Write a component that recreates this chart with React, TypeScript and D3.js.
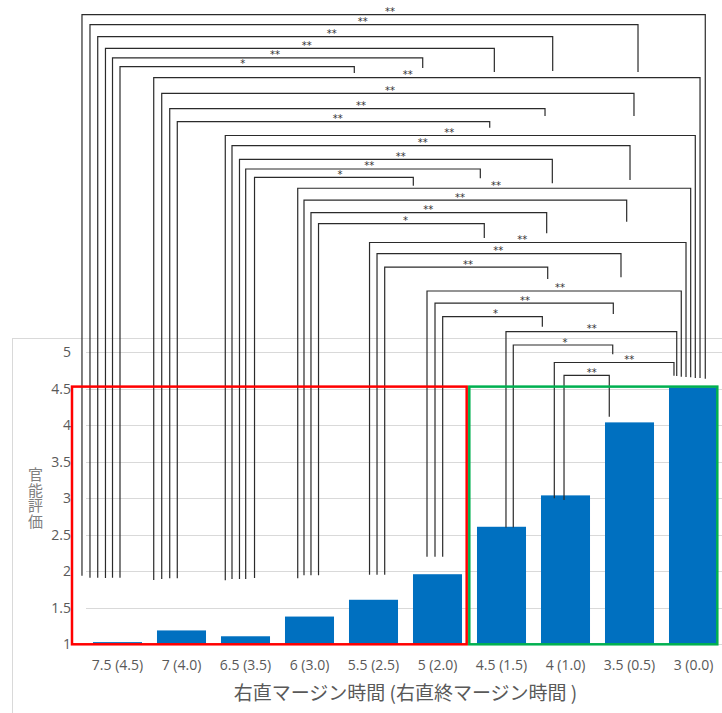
import React from "react";
import * as d3 from "d3";

// Sensory evaluation score by right-turn margin time
const categories = [
  "7.5 (4.5)", "7 (4.0)", "6.5 (3.5)", "6 (3.0)", "5.5 (2.5)",
  "5 (2.0)", "4.5 (1.5)", "4 (1.0)", "3.5 (0.5)", "3 (0.0)",
];
const scores = [1.03, 1.19, 1.11, 1.38, 1.61, 1.96, 2.61, 3.04, 4.04, 4.52];
const yTicks = [1, 1.5, 2, 2.5, 3, 3.5, 4, 4.5, 5];

// Significant pairwise differences (category index pairs and mark)
const pairLeft = [0, 0, 0, 0, 0, 0, 1, 1, 1, 1, 2, 2, 2, 2, 2, 3, 3, 3, 3, 4, 4, 4, 5, 5, 5, 6, 6, 7, 7];
const pairRight = [9, 8, 7, 6, 5, 4, 9, 8, 7, 6, 9, 8, 7, 6, 5, 9, 8, 7, 6, 9, 8, 7, 9, 8, 7, 9, 8, 9, 8];
const pairMarks = [
  "**", "**", "**", "**", "**", "*",
  "**", "**", "**", "**",
  "**", "**", "**", "**", "*",
  "**", "**", "**", "*",
  "**", "**", "**",
  "**", "**", "*",
  "**", "*",
  "**", "**",
];

// Bracket geometry in axis units (score for heights, category position for x)
const bracketLevel = [9.625, 9.488, 9.323, 9.164, 9.032, 8.912, 8.762, 8.548, 8.337, 8.159, 7.97, 7.83, 7.644, 7.511, 7.397, 7.247, 7.084, 6.912, 6.764, 6.504, 6.353, 6.168, 5.84, 5.675, 5.49, 5.282, 5.1, 4.86, 4.685];
const bracketLeftPos = [-0.555, -0.43, -0.309, -0.188, -0.078, 0.039, 0.566, 0.691, 0.816, 0.934, 1.684, 1.789, 1.906, 2.003, 2.141, 2.816, 2.914, 3.023, 3.141, 3.938, 4.055, 4.175, 4.836, 4.961, 5.081, 6.07, 6.184, 6.825, 6.977];
const bracketRightPos = [9.184, 8.133, 6.8, 5.888, 4.769, 3.7, 9.102, 8.07, 6.68, 5.816, 9.028, 8.008, 6.794, 5.669, 4.622, 8.956, 7.956, 6.706, 5.731, 8.883, 7.867, 6.722, 8.809, 7.747, 6.638, 8.738, 7.738, 8.695, 7.684];
const bracketLeftEnd = [1.94, 1.912, 1.912, 1.908, 1.912, 1.912, 1.881, 1.895, 1.904, 1.904, 1.877, 1.895, 1.895, 1.895, 1.908, 1.904, 1.945, 1.945, 1.945, 1.953, 1.953, 1.953, 2.2, 2.2, 2.2, 2.6, 2.6, 3.0, 2.977];
const bracketRightEnd = [4.638, 8.84, 8.853, 8.84, 8.895, 8.826, 4.648, 8.237, 8.237, 8.077, 4.648, 7.36, 7.315, 7.384, 7.282, 4.658, 6.789, 6.63, 6.566, 4.662, 6.027, 6.004, 4.666, 5.525, 5.351, 4.675, 4.973, 4.679, 4.118];
const bracketLabelPos = [4.258, 3.831, 3.347, 2.956, 2.461, 1.956, 4.534, 4.258, 3.805, 3.441, 5.184, 4.769, 4.425, 3.934, 3.477, 5.914, 5.352, 4.856, 4.5, 6.325, 5.95, 5.477, 6.914, 6.367, 5.906, 7.409, 6.992, 7.997, 7.409];

// Highlight groups (category position extents, score extents)
const groupFrom = [-0.711, 5.497];
const groupTo = [5.456, 9.372];
const groupColors = ["#ff0000", "#00b050"];
const groupTop = 4.53;

const xTitle = "右直マージン時間 (右直終マージン時間 )";
const yTitle = "官能評価";

const W = 722;
const H = 713;

export default function App() {
  const x = d3
    .scaleBand<string>()
    .domain(categories)
    .range([85.5, 725.5])
    .paddingInner(0.234)
    .paddingOuter(0.117);
  const bw = x.bandwidth();
  const y = d3.scaleLinear().domain([1, 5]).range([644.3, 352.3]);
  const pos = d3
    .scaleLinear()
    .domain([0, categories.length - 1])
    .range([
      (x(categories[0]) as number) + bw / 2,
      (x(categories[categories.length - 1]) as number) + bw / 2,
    ]);

  const tickFont = "'Open Sans', 'Noto Sans CJK JP', sans-serif";
  const cjkFont = "'Noto Sans CJK JP', sans-serif";

  return (
    <svg
      width={W}
      height={H}
      style={{ position: "absolute", left: 0, top: 0, background: "#fff" }}
    >
      <rect x={0} y={0} width={W} height={H} fill="#fff" />
      {/* chart area frame */}
      <rect
        x={12.5}
        y={338.5}
        width={900}
        height={600}
        fill="#fff"
        stroke="#d9d9d9"
        strokeWidth={1}
      />
      {/* gridlines */}
      {yTicks.map((t) => (
        <line
          key={"g" + t}
          x1={86}
          x2={W}
          y1={Math.round(y(t)) + 0.5}
          y2={Math.round(y(t)) + 0.5}
          stroke="#d9d9d9"
          strokeWidth={1}
        />
      ))}
      {/* y tick labels */}
      {yTicks.map((t) => (
        <text
          key={"yl" + t}
          x={71}
          y={y(t)}
          dy="0.36em"
          textAnchor="end"
          fontFamily={tickFont}
          fontSize={14}
          fill="#595959"
        >
          {d3.format("~g")(t)}
        </text>
      ))}
      {/* bars */}
      {categories.map((c, i) => (
        <rect
          key={"b" + c}
          x={x(c) as number}
          y={y(scores[i])}
          width={bw}
          height={y(1) - y(scores[i])}
          fill="#0070c0"
        />
      ))}
      {/* x tick labels */}
      {categories.map((c) => (
        <text
          key={"xl" + c}
          x={(x(c) as number) + bw / 2}
          y={670}
          textAnchor="middle"
          fontFamily={tickFont}
          fontSize={14}
          fill="#595959"
        >
          {c}
        </text>
      ))}
      {/* axis titles */}
      <text
        x={(85.5 + 725.5) / 2}
        y={700}
        textAnchor="middle"
        fontFamily={cjkFont}
        fontSize={19}
        fill="#595959"
      >
        {xTitle}
      </text>
      <text
        x={35.5}
        y={(y(1) + y(5)) / 2}
        textAnchor="middle"
        writingMode="vertical-rl"
        letterSpacing={0.5}
        style={{ textOrientation: "upright" }}
        fontFamily={cjkFont}
        fontSize={15}
        fill="#7f7f7f"
      >
        {yTitle}
      </text>
      {/* significance brackets */}
      <g fill="none" stroke="#2b2b2b" strokeWidth={1.2}>
        {pairLeft.map((l, i) => {
          const xl = pos(bracketLeftPos[i]);
          const xr = pos(bracketRightPos[i]);
          const yt = y(bracketLevel[i]);
          return (
            <path
              key={"br" + i + "-" + l + "-" + pairRight[i]}
              d={`M${xl},${y(bracketLeftEnd[i])}V${yt}H${xr}V${y(bracketRightEnd[i])}`}
            />
          );
        })}
      </g>
      {pairMarks.map((m, i) => (
        <text
          key={"bm" + i}
          x={pos(bracketLabelPos[i])}
          y={y(bracketLevel[i]) + 0.5}
          textAnchor="middle"
          fontFamily="'DejaVu Sans', sans-serif"
          fontSize={10}
          fill="#333"
        >
          {m}
        </text>
      ))}
      {/* highlight groups */}
      {groupFrom.map((g, i) => (
        <rect
          key={"grp" + i}
          x={pos(g)}
          y={y(groupTop)}
          width={pos(groupTo[i]) - pos(g)}
          height={y(1) - y(groupTop)}
          fill="none"
          stroke={groupColors[i]}
          strokeWidth={2.5}
        />
      ))}
    </svg>
  );
}
